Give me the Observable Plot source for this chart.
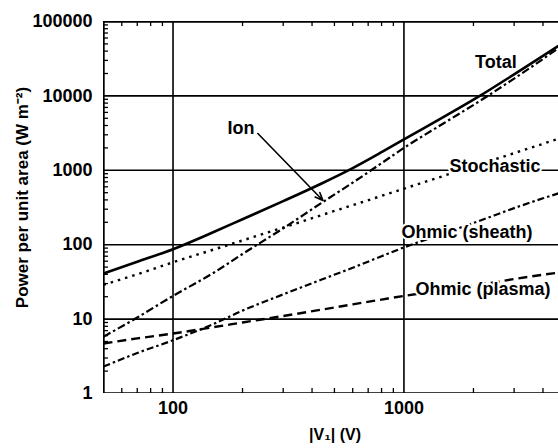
<!DOCTYPE html>
<html><head><meta charset="utf-8">
<script src="https://cdn.jsdelivr.net/npm/d3@7"></script>
<script src="https://cdn.jsdelivr.net/npm/@observablehq/plot@0.6"></script>
<style>
body{margin:0;background:#fff;}
#chart svg{font-family:"Liberation Sans", Arial, Helvetica, sans-serif;}
</style></head><body><div id="chart"></div>
<script>
// |V1| (V)
const voltage    = [50, 70, 100, 150, 200, 300, 440, 600, 800, 1000, 1500, 2130, 3000, 4000, 4670];
// Power per unit area (W m^-2)
const total      = [41, 59, 87, 148, 220, 385, 665, 1070, 1750, 2600, 5300, 10000, 19500, 34500, 47000];
const ion        = [5.8, 10.5, 20.5, 42, 75, 166, 365, 682, 1247, 2000, 4360, 8540, 17100, 31300, 44000];
const stochastic = [29, 40, 58, 86, 114, 170, 250, 340, 453, 566, 850, 1210, 1700, 2270, 2660];
const ohmicSheath= [2.3, 3.5, 5.2, 8.6, 13, 21.5, 34, 49, 70, 92, 143, 210, 310, 420, 490];
const ohmicPlasma= [4.7, 5.5, 6.4, 7.8, 9.0, 11.0, 13.4, 15.8, 18.3, 20.5, 24.7, 29, 34.5, 39.5, 42];

const seriesNames = ["Total", "Ion", "Stochastic", "Ohmic (sheath)", "Ohmic (plasma)"];
const yTicks = [1, 10, 100, 1000, 10000, 100000];
const xTicks = [100, 1000];
const yGrid = [10, 100, 1000, 10000];
const xGrid = [100, 1000];
const yMinor = [1, 10, 100, 1000, 10000].flatMap(d => [2,3,4,5,6,7,8,9].map(m => m * d));
const xMinor = [60, 70, 80, 90, 200, 300, 400, 500, 600, 700, 800, 900, 2000, 3000, 4000];

// label anchors (data space)
const labelText = ["Total", "Ion", "Stochastic", "Ohmic (sheath)", "Ohmic (plasma)"];
const labelV    = [2500, 197, 2480, 1874, 2200];
const labelP    = [28100, 3650, 1125, 146, 25];
const ionArrowFrom = {v: 233, p: 3125};
const ionArrowTo   = {v: 446, p: 393};

const yTitle = "Power per unit area (W m\u207B\u00B2)";
const xTitle = "|V\u2081| (V)";

const allSeries = [total, ion, stochastic, ohmicSheath, ohmicPlasma];
const rows = allSeries.flatMap((vals, s) => voltage.map((v, i) => ({series: seriesNames[s], v, p: vals[i]})));
const labels = labelText.map((t, i) => ({t, v: labelV[i], p: labelP[i]}));

const styles = {
  "Total":          {strokeWidth: 2.6, strokeDasharray: null},
  "Ion":            {strokeWidth: 2.2, strokeDasharray: "8,3,2.5,3"},
  "Stochastic":     {strokeWidth: 2.4, strokeDasharray: "2.5,5"},
  "Ohmic (sheath)": {strokeWidth: 2.2, strokeDasharray: "7,3,2.5,3"},
  "Ohmic (plasma)": {strokeWidth: 2.4, strokeDasharray: "9,5"}
};

const lineMarks = seriesNames.map(name => Plot.line(rows.filter(r => r.series === name), {
  x: "v", y: "p", stroke: "black", curve: "monotone-x",
  strokeWidth: styles[name].strokeWidth, strokeDasharray: styles[name].strokeDasharray,
  strokeLinecap: "butt"
}));

const chart = Plot.plot({
  width: 558, height: 448,
  marginLeft: 103, marginRight: 0, marginTop: 21, marginBottom: 55,
  x: {type: "log", domain: [50, 4670]},
  y: {type: "log", domain: [1, 100000]},
  clip: true,
  style: {fontFamily: '"Liberation Sans", Arial, sans-serif', fontSize: "18px", fontWeight: "bold", color: "black", background: "white"},
  marks: [
    Plot.ruleY(yGrid, {stroke: "black", strokeWidth: 1.6}),
    Plot.ruleX(xGrid, {stroke: "black", strokeWidth: 1.6}),
    Plot.tickY(yMinor, {y: d => d, stroke: "black", strokeWidth: 1.3, insetRight: 450}),
    Plot.tickX(xMinor, {x: d => d, stroke: "black", strokeWidth: 1.3, insetTop: 367}),
    Plot.tickX(xMinor, {x: d => d, stroke: "black", strokeWidth: 1.3, insetBottom: 367}),
    ...lineMarks,
    Plot.text(labels, {x: "v", y: "p", text: "t", fill: "black", stroke: "white", strokeWidth: 4, fontSize: 18, fontWeight: "bold", clip: false}),
    Plot.arrow([0], {x1: () => ionArrowFrom.v, y1: () => ionArrowFrom.p, x2: () => ionArrowTo.v, y2: () => ionArrowTo.p, stroke: "black", strokeWidth: 1.6, headLength: 8, headAngle: 45}),
    Plot.ruleY([1, 100000], {stroke: "black", strokeWidth: 2.4}),
    Plot.ruleX([50], {stroke: "black", strokeWidth: 2.4}),
    Plot.axisY(yTicks, {tickSize: 0, tickPadding: 11, tickFormat: d => String(d), fontSize: 18, fontWeight: "bold", label: null}),
    Plot.axisX(xTicks, {tickSize: 0, tickPadding: 8, tickFormat: d => String(d), fontSize: 18, fontWeight: "bold", label: null}),
    Plot.text([yTitle], {frameAnchor: "left", textAnchor: "middle", lineAnchor: "middle", dx: -81, dy: -10, rotate: -90, fontSize: 17, fontWeight: "bold", clip: false}),
    Plot.text([xTitle], {frameAnchor: "bottom", textAnchor: "middle", lineAnchor: "middle", dx: 4, dy: 41, fontSize: 16, fontWeight: "bold", clip: false})
  ]
});
document.getElementById("chart").append(chart);
</script></body></html>
